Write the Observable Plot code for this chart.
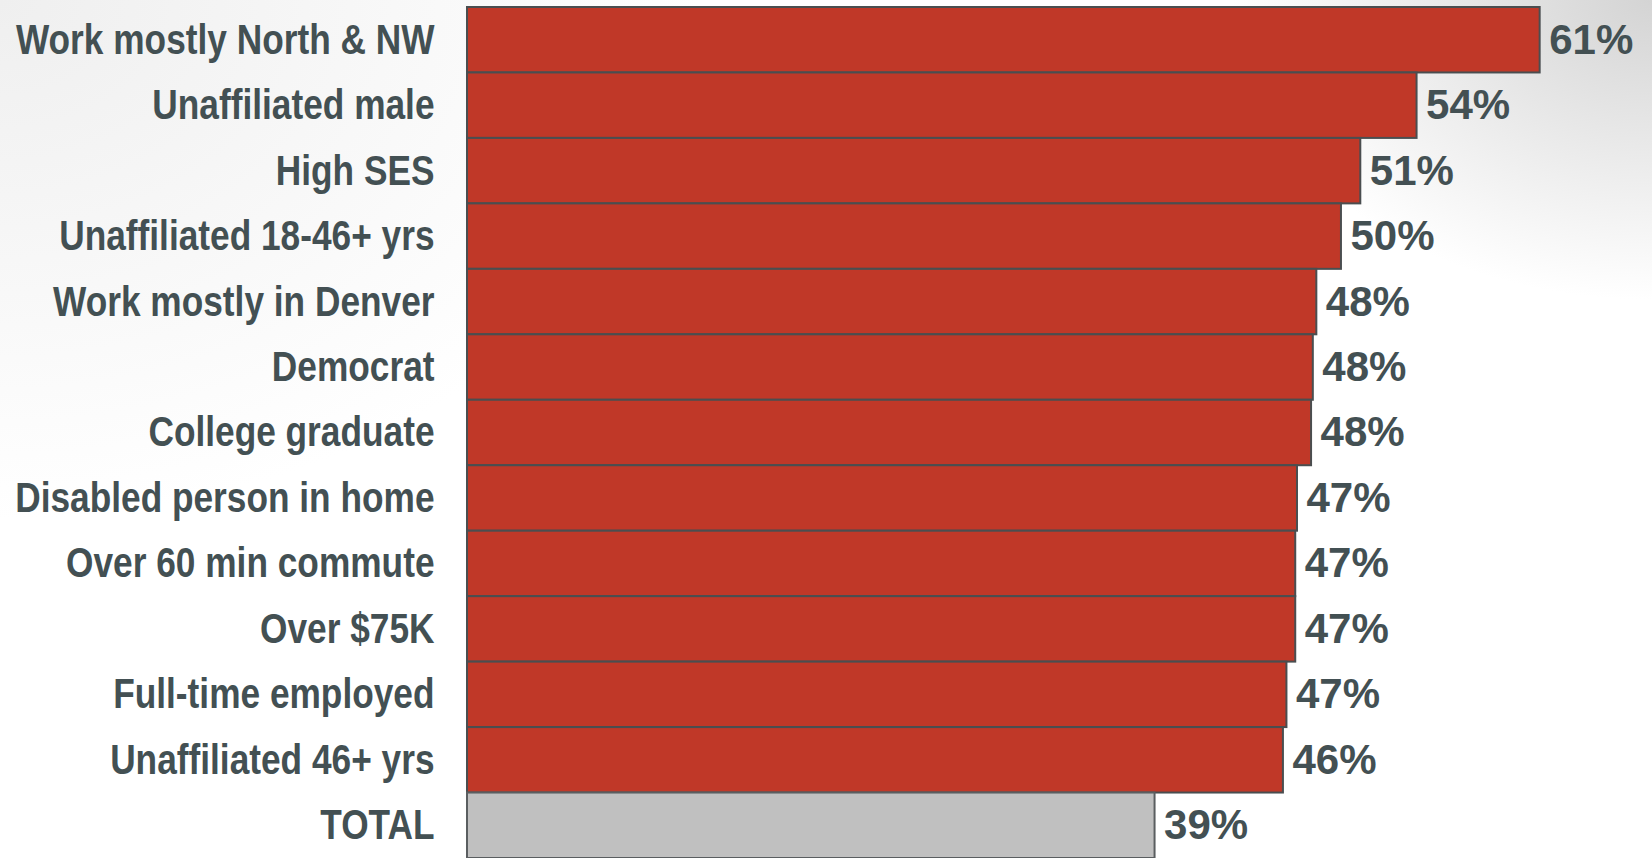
<!DOCTYPE html>
<html>
<head>
<meta charset="utf-8">
<script src="https://cdn.jsdelivr.net/npm/d3@7"></script>
<script src="https://cdn.jsdelivr.net/npm/@observablehq/plot@0.6"></script>
<style>
  html, body { margin: 0; padding: 0; }
  body {
    width: 1652px; height: 858px; overflow: hidden;
    background:
      radial-gradient(ellipse 420px 300px at 100% 0%, #d4d4d4 0%, rgba(255,255,255,0) 100%),
      radial-gradient(ellipse 700px 520px at 0% 0%, #efefef 0%, rgba(255,255,255,0) 100%),
      #ffffff;
  }
  #chart svg { display: block; background: transparent; }
</style>
</head>
<body>
<div id="chart"></div>
<script>
const categories = [
  "Work mostly North & NW",
  "Unaffiliated male",
  "High SES",
  "Unaffiliated 18-46+ yrs",
  "Work mostly in Denver",
  "Democrat",
  "College graduate",
  "Disabled person in home",
  "Over 60 min commute",
  "Over $75K",
  "Full-time employed",
  "Unaffiliated 46+ yrs",
  "TOTAL"
];
const values = [61.0, 54.0, 50.8, 49.7, 48.3, 48.1, 48.0, 47.2, 47.1, 47.1, 46.6, 46.4, 39.1];
const totalLabel = "TOTAL";

const data = categories.map((c, i) => ({category: c, value: values[i]}));
const groups = data.filter(d => d.category !== totalLabel);
const total = data.filter(d => d.category === totalLabel);

const textColor = "#435053";
const chart = Plot.plot({
  width: 1652,
  height: 858,
  marginLeft: 467,
  marginRight: 42,
  marginTop: 7,
  marginBottom: 0,
  style: {background: "transparent", overflow: "visible", fontFamily: "'Liberation Sans', Arial, sans-serif"},
  x: {domain: [0, 65], axis: null},
  y: {domain: categories, padding: 0, round: false, axis: null},
  marks: [
    Plot.barX(groups, {x: "value", y: "category", fill: "#c03828", stroke: "#4a4e50", strokeWidth: 2}),
    Plot.barX(total, {x: "value", y: "category", fill: "#c0c0c0", stroke: "#5a5e60", strokeWidth: 2}),
    Plot.text(data, {
      y: "category",
      text: "category",
      frameAnchor: "left",
      textAnchor: "end",
      dx: -33,
      fontSize: 42,
      fontWeight: "bold",
      fill: textColor
    }),
    Plot.text(data, {
      x: "value",
      y: "category",
      text: d => d3.format(".0f")(d.value) + "%",
      textAnchor: "start",
      dx: 9,
      fontSize: 42,
      fontWeight: "bold",
      fill: textColor
    })
  ]
});
document.getElementById("chart").appendChild(chart);

// Emulate a narrow (condensed) face for the category labels.
const catSet = new Set(categories);
chart.querySelectorAll("text").forEach(t => {
  if (!catSet.has(t.textContent)) return;
  const tr = t.getAttribute("transform") || "";
  t.setAttribute("transform", tr + " scale(0.84,1)");
});
</script>
</body>
</html>
